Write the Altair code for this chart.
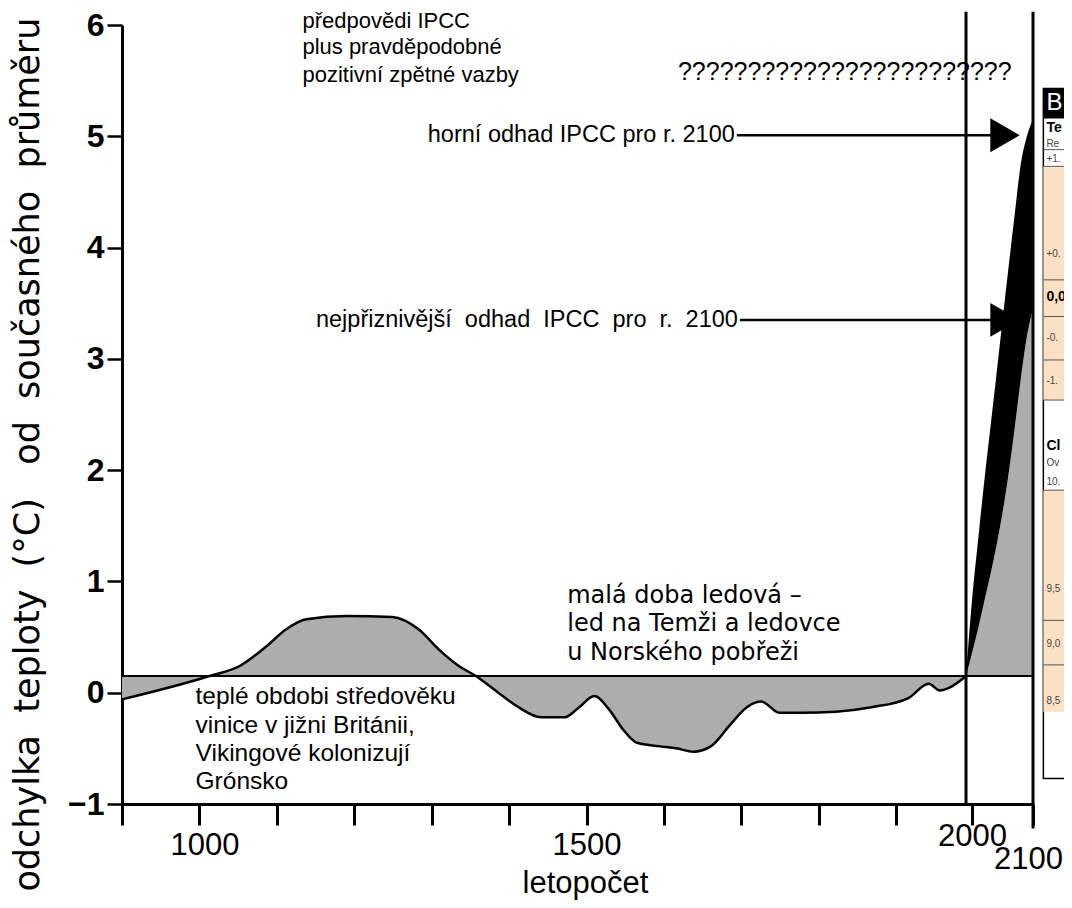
import altair as alt
import pandas as pd

# ---- data ----
hist_year = [900, 1013, 1052, 1087, 1112, 1138, 1190, 1249, 1283, 1309, 1335, 1357,
             1386, 1412, 1441, 1472, 1489, 1510, 1529, 1547, 1565, 1593, 1616, 1638,
             1661, 1684, 1707, 1726, 1749, 1777, 1822, 1868, 1915, 1942, 1956, 1970, 1990]
hist_temp = [-0.06, 0.15, 0.24, 0.42, 0.57, 0.66, 0.69, 0.68, 0.57, 0.39, 0.24, 0.15,
             0.0, -0.13, -0.22, -0.22, -0.14, -0.03, -0.15, -0.33, -0.45, -0.48, -0.50, -0.53,
             -0.48, -0.30, -0.13, -0.08, -0.18, -0.18, -0.17, -0.13, -0.05, 0.08, 0.02, 0.05, 0.15]

proj_year = [1990, 2000, 2010, 2020, 2030, 2040, 2050, 2060, 2070, 2080, 2090, 2100]
proj_upper = [0.15, 0.84, 1.38, 1.90, 2.38, 2.86, 3.35, 3.83, 4.30, 4.75, 5.00, 5.15]
proj_lower = [0.15, 0.36, 0.58, 0.82, 1.06, 1.32, 1.62, 1.97, 2.38, 2.82, 3.20, 3.45]

baseline = 0.15
y_ticks = [-1, 0, 1, 2, 3, 4, 5, 6]
x_ticks = [900, 1000, 1100, 1200, 1300, 1400, 1500, 1600, 1700, 1800, 1900, 2000, 2100]

# annotation anchors (year, °C)
NB = "\u00a0"
note_top = ["předpovědi IPCC", "plus pravděpodobné", "pozitivní zpětné vazby"]
note_top_y = [6.04, 5.80, 5.55]
note_top_x = 1133
qmarks = "????????????????????????"
qmarks_x, qmarks_y = 1618, 5.58
arrow_text = ["horní odhad IPCC pro r. 2100",
              "nejpřiznivější" + NB + " odhad" + NB + " IPCC" + NB + " pro" + NB + " r." + NB + " 2100"]
arrow_text_x = [1694, 1698]
arrow_y = [5.01, 3.35]
arrow_head_x = [2054, 2054]
note_ice = ["malá doba ledová –", "led na Temži a ledovce", "u  Norského pobřeži"]
note_ice_y = [0.87, 0.615, 0.36]
note_ice_x = 1475
note_warm = ["teplé obdobi středověku", "vinice v jižni Británii,", "Vikingové kolonizují", "Grónsko"]
note_warm_y = [-0.04, -0.295, -0.55, -0.805]
note_warm_x = 995
vline_x = [1990, 2100]
vline_top = [6.12, 6.12]
vline_bottom = [-1.0, -1.22]
y_title = ("odchylka" + NB + " teploty" + NB + " (°C)" + NB + NB + " od" + NB
           + " současného" + NB + " průměru")
y_title_x, y_title_y = 779, 2.14

# fragment of an overlapping table at the right edge (year, °C coordinates)
frag_box = {"x": 2117, "x2": 2180, "y": 5.43, "y2": -0.77}
frag_header = {"x": 2117, "x2": 2180, "y": 5.43, "y2": 5.16}
frag_bands_y = [4.73, 1.82]
frag_bands_y2 = [2.63, -0.17]
frag_lines_y = [4.88, 4.73, 3.71, 3.38, 2.99, 2.63, 1.82, 0.65, 0.25]
frag_bold = ["Te", "0,0", "Cl"]
frag_bold_y = [5.07, 3.56, 2.22]
frag_small = ["Re", "+1.", "+0.", "-0.", "-1.", "Ov", "10.", "9,5", "9,0", "8,5"]
frag_small_y = [4.93, 4.80, 3.94, 3.19, 2.80, 2.06, 1.89, 0.93, 0.44, -0.07]

# ---- tables ----
hist = pd.DataFrame({"year": hist_year, "temp": hist_temp, "base": baseline})
proj = pd.DataFrame({"year": proj_year, "upper": proj_upper, "lower": proj_lower, "base": baseline})
base_df = pd.DataFrame({"year": [900], "temp": [baseline]})
vlines = pd.DataFrame({"year": vline_x, "top": vline_top, "bottom": vline_bottom})
arrows = pd.DataFrame({"year": arrow_text_x, "year2": arrow_head_x, "temp": arrow_y, "text": arrow_text})
top_df = pd.DataFrame({"year": note_top_x, "temp": note_top_y, "text": note_top})
q_df = pd.DataFrame({"year": [qmarks_x], "temp": [qmarks_y], "text": [qmarks]})
ice_df = pd.DataFrame({"year": note_ice_x, "temp": note_ice_y, "text": note_ice})
warm_df = pd.DataFrame({"year": note_warm_x, "temp": note_warm_y, "text": note_warm})
ytitle_df = pd.DataFrame({"year": [y_title_x], "temp": [y_title_y], "text": [y_title]})
box_df = pd.DataFrame([frag_box])
head_df = pd.DataFrame([frag_header])
band_df = pd.DataFrame({"x": 2117, "x2": 2180, "y": frag_bands_y, "y2": frag_bands_y2})
fline_df = pd.DataFrame({"x": 2117, "x2": 2180, "y": frag_lines_y})
fbold_df = pd.DataFrame({"x": 2122, "y": frag_bold_y, "text": frag_bold})
fsmall_df = pd.DataFrame({"x": 2122, "y": frag_small_y, "text": frag_small})
fB_df = pd.DataFrame({"x": [2122], "y": [5.30], "text": ["B"]})

W, H = 911, 779
FONT = "Liberation Sans"
xscale = alt.Scale(domain=[900, 1990, 2100], range=[0, 844, W])
yscale = alt.Scale(domain=[-1, 6], nice=False, zero=False)

xaxis = alt.Axis(
    values=x_ticks,
    labelExpr="(datum.value == 1000 || datum.value == 1500 || datum.value == 2000 || datum.value == 2100) ? datum.value + '' : ''",
    title="letopočet", titleFont=FONT, titleFontSize=31, titleFontWeight="normal", titleColor="black",
    titleX=463, titleY=79, titleBaseline="middle", titleAnchor="start", titleAlign="center",
    labelFont=FONT, labelFontSize=31, labelColor="black", labelBaseline="top",
    labelPadding={"condition": [{"test": "datum.value == 2000", "value": -4},
                                {"test": "datum.value == 2100", "value": 19}], "value": 5},
    labelOffset={"condition": [{"test": "datum.value == 2100", "value": -5},
                               {"test": "datum.value == 1000", "value": 5}], "value": 0},
    labelFlush=False, labelOverlap=False,
    tickSize=21, tickWidth=3, tickColor="black",
    domainWidth=3, domainColor="black", grid=False,
)
yaxis = alt.Axis(
    values=y_ticks, format="d", title=None,
    labelFont=FONT, labelFontSize=32, labelFontWeight="bold", labelColor="black", labelPadding=3,
    tickSize=15, tickWidth=2.5, tickColor="black",
    domainWidth=3, domainColor="black", grid=False,
)

def X(f):
    return alt.X(f, type="quantitative", scale=xscale, axis=xaxis)

def Y(f):
    return alt.Y(f, type="quantitative", scale=yscale, axis=yaxis)

STIPPLE = "#adadad"

hist_area = alt.Chart(hist).mark_area(color=STIPPLE, interpolate="monotone").encode(
    x=X("year"), y=Y("temp"), y2="base:Q")
hist_line = alt.Chart(hist).mark_line(color="black", strokeWidth=2.5, interpolate="monotone").encode(
    x=X("year"), y=Y("temp"))
base_rule = alt.Chart(base_df).mark_rule(color="black", strokeWidth=2.2).encode(y=Y("temp"))
proj_stip = alt.Chart(proj).mark_area(color=STIPPLE, interpolate="monotone").encode(
    x=X("year"), y=Y("lower"), y2="base:Q")
proj_black = alt.Chart(proj).mark_area(color="black", interpolate="monotone").encode(
    x=X("year"), y=Y("upper"), y2="lower:Q")
vrules = alt.Chart(vlines).mark_rule(color="black", strokeWidth=3).encode(
    x=X("year"), y=Y("top"), y2="bottom:Q")
arrow_lines = alt.Chart(arrows).mark_rule(color="black", strokeWidth=2.5).encode(
    x=X("year"), x2="year2:Q", y=Y("temp"))
arrow_heads = alt.Chart(arrows).mark_point(shape="triangle-right", filled=True, color="black",
                                           size=1150, opacity=1).encode(x=X("year2"), y=Y("temp"))
arrow_txt = alt.Chart(arrows).mark_text(align="right", baseline="middle", font=FONT, fontSize=23.5,
                                        color="black", dx=-2).encode(x=X("year"), y=Y("temp"), text="text")
top_txt = alt.Chart(top_df).mark_text(align="left", baseline="middle", font=FONT, fontSize=22,
                                      color="black").encode(x=X("year"), y=Y("temp"), text="text")
q_txt = alt.Chart(q_df).mark_text(align="left", baseline="middle", font=FONT, fontSize=25,
                                  color="black").encode(x=X("year"), y=Y("temp"), text="text")
ice_txt = alt.Chart(ice_df).mark_text(align="left", baseline="middle", font="DejaVu Sans", fontSize=24,
                                      color="black").encode(x=X("year"), y=Y("temp"), text="text")
warm_txt = alt.Chart(warm_df).mark_text(align="left", baseline="middle", font=FONT, fontSize=24.5,
                                        color="black").encode(x=X("year"), y=Y("temp"), text="text")
ytitle_txt = alt.Chart(ytitle_df).mark_text(align="center", baseline="middle", angle=270,
                                            font="DejaVu Sans", fontSize=35, color="black").encode(
    x=X("year"), y=Y("temp"), text="text")

# right-edge table fragment
f_box = alt.Chart(box_df).mark_rect(fill="white", stroke="black", strokeWidth=1.5).encode(
    x=X("x"), x2="x2:Q", y=Y("y"), y2="y2:Q")
f_band = alt.Chart(band_df).mark_rect(fill="#fbe0c4").encode(x=X("x"), x2="x2:Q", y=Y("y"), y2="y2:Q")
f_head = alt.Chart(head_df).mark_rect(fill="black").encode(x=X("x"), x2="x2:Q", y=Y("y"), y2="y2:Q")
f_lines = alt.Chart(fline_df).mark_rule(color="#555555", strokeWidth=1).encode(
    x=X("x"), x2="x2:Q", y=Y("y"))
f_B = alt.Chart(fB_df).mark_text(align="left", baseline="middle", font=FONT, fontSize=24,
                                 color="white").encode(x=X("x"), y=Y("y"), text="text")
f_bold = alt.Chart(fbold_df).mark_text(align="left", baseline="middle", font=FONT, fontSize=14,
                                       fontWeight="bold", color="black").encode(x=X("x"), y=Y("y"), text="text")
f_small = alt.Chart(fsmall_df).mark_text(align="left", baseline="middle", font=FONT, fontSize=10,
                                         color="#444444").encode(x=X("x"), y=Y("y"), text="text")

chart = alt.layer(
    f_box, f_band, f_head, f_lines, f_B, f_bold, f_small,
    hist_area, proj_stip, proj_black, hist_line, base_rule, vrules,
    arrow_lines, arrow_heads, arrow_txt, top_txt, q_txt, ice_txt, warm_txt, ytitle_txt,
).properties(
    width=W, height=H,
    padding={"left": 114, "top": 17, "right": 31, "bottom": 96},
    autosize=alt.AutoSizeParams(type="none"),
    background="white",
).configure_view(stroke=None)

chart.save("out.html", embed_options={"renderer": "svg", "actions": False})
